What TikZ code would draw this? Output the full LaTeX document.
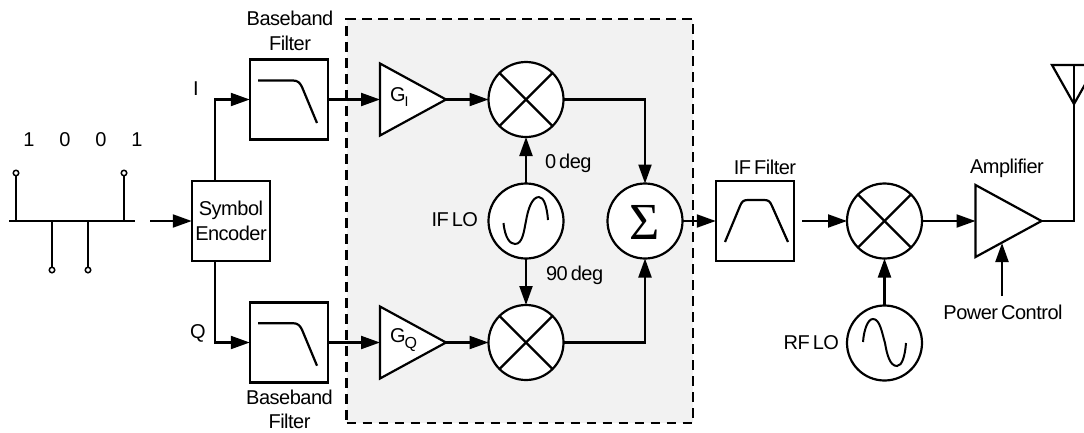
\documentclass[tikz,border=0pt]{standalone}
\usepackage{fontspec}
\setmainfont[LetterSpace=-2.5,WordSpace=0.6]{Liberation Sans}
\newfontfamily\sigmafont{Liberation Serif}
\usetikzlibrary{arrows.meta,shapes.geometric}
\tikzset{
  x=1pt,y=-1pt,
  wire/.style={line width=2.2pt,line cap=butt},
  thin wire/.style={line width=1.8pt},
  arr/.style={wire,-{Triangle[length=19pt,width=13pt]}},
  blockbox/.style={draw,line width=2.2pt,fill=white,minimum width=78.5pt,minimum height=80pt,inner sep=0pt,outer sep=0pt,align=center},
  round/.style={draw,line width=2.2pt,circle,fill=white,minimum size=75pt,inner sep=0pt,outer sep=0pt},
  gainamp/.style={draw,line width=2.2pt,fill=white,isosceles triangle,isosceles triangle stretches,shape border rotate=0,inner sep=0pt,outer sep=0pt,minimum width=72pt,minimum height=66pt,anchor=lower side},
  pin/.style={draw,line width=1.5pt,circle,fill=white,minimum size=5.5pt,inner sep=0pt,outer sep=0pt},
  txt/.style={inner sep=0pt,outer sep=0pt,align=center,font=\fontsize{20}{24.5}\selectfont},
}
\begin{document}
\begin{tikzpicture}
\useasboundingbox (0,0) rectangle (1084,432);
\clip (0,0) rectangle (1084,432);
% shaded group
\node[draw,line width=2.2pt,dash pattern=on 9.5pt off 6.5pt,fill=black!5,minimum width=346.5pt,minimum height=404pt,inner sep=0pt] (group) at (519.75,221) {};
% bit stream
\coordinate (bl) at (9,221); \coordinate (br) at (135,221);
\node[pin] (p1) at (16,173) {};
\node[pin] (p2) at (52,270) {};
\node[pin] (p3) at (88,270) {};
\node[pin] (p4) at (124,173) {};
\coordinate (b1) at (16,221); \coordinate (b2) at (52,221);
\coordinate (b3) at (88,221); \coordinate (b4) at (124,221);
\draw[thin wire] (bl) -- (br);
\draw[thin wire] (b1) -- (p1);
\draw[thin wire] (b2) -- (p2);
\draw[thin wire] (b3) -- (p3);
\draw[thin wire] (b4) -- (p4);
\node[txt] (t1) at (29,140) {1};
\node[txt] (t2) at (65,140) {0};
\node[txt] (t3) at (101,140) {0};
\node[txt] (t4) at (137,140) {1};
% blocks
\node[blockbox,txt,draw,line width=2.2pt,minimum width=78.5pt,minimum height=80pt] (enc) at (231,221) {Symbol\\Encoder};
\node[blockbox] (bb1) at (289,99.5) {};
\node[blockbox] (bb2) at (289,342.5) {};
\node[gainamp] (g1) at (380,99.5) {};
\node[gainamp] (g2) at (380,342.5) {};
\node[round] (m1) at (526,99.5) {};
\node[round] (m2) at (526,342.5) {};
\node[round] (lo1) at (526,221) {};
\node[round] (sum) at (645,221) {};
\node[blockbox] (iff) at (755,221) {};
\node[round] (m3) at (884.5,221) {};
\node[round] (lo2) at (884.5,343) {};
\node[gainamp] (pa) at (975.5,221) {};
\foreach \m in {m1,m2,m3}{
  \draw[wire] (\m.45) -- (\m.225);
  \draw[wire] (\m.135) -- (\m.-45);
}
% filter curves
\draw[wire,line join=round] (258,80.5) -- (293,80.5) .. controls (298,80.5) and (300,83) .. (302,87) -- (317,123);
\draw[wire,line join=round] (258,323.2) -- (293,323.2) .. controls (298,323.2) and (300,325.7) .. (302,329.7) -- (317,365.7);
\draw[wire,line join=round] (725,242) -- (740,206) .. controls (742,201) and (744,200) .. (748,200) -- (764,200) .. controls (768,200) and (770,201) .. (772,206) -- (788,242);
% sines
\draw[line width=2pt] (503.5,223) .. controls (505,238) and (510,244) .. (515,244) .. controls (523,244) and (524,230) .. (526,221) .. controls (528,209) and (532,197) .. (539,197) .. controls (544,197) and (547,207) .. (548,220);
\draw[line width=2pt] (863,342) .. controls (864,329) and (868,319) .. (873,319) .. controls (880,319) and (882,333) .. (885,343) .. controls (887,355) and (890,366) .. (897,366) .. controls (902,366) and (905,356) .. (906,343);
% connectors
\coordinate (sigin) at (150,221);
\draw[arr] (sigin) -- (enc.west);
\coordinate (encI) at (215,181); \coordinate (encQ) at (215,261);
\draw[arr] (encI) |- (bb1.west);
\draw[arr] (encQ) |- (bb2.west);
\draw[arr] (bb1.east) -- (g1.lower side);
\draw[arr] (bb2.east) -- (g2.lower side);
\draw[arr] (g1.apex) -- (m1.west);
\draw[arr] (g2.apex) -- (m2.west);
\draw[arr] (lo1.north) -- (m1.south);
\draw[arr] (lo1.south) -- (m2.north);
\draw[arr] (m1.east) -| (sum.north);
\draw[arr] (m2.east) -| (sum.south);
\draw[arr] (sum.east) -- (iff.west);
\coordinate (ifout) at (802,221);
\draw[arr] (ifout) -- (m3.west);
\draw[arr] (m3.east) -- (pa.lower side);
\draw[arr] (lo2.north) -- (m3.south);
\coordinate (pwr) at (1002,296); \coordinate (pwrtip) at (1002,243);
\draw[arr] (pwr) -- (pwrtip);
% antenna
\coordinate (antapex) at (1074,104); \coordinate (antl) at (1052,65); \coordinate (antr) at (1096,65); \coordinate (anttop) at (1074,65);
\draw[wire] (pa.apex) -| (antapex);
\draw[wire,line join=miter] (antapex) -- (antl) -- (antr) -- cycle;
\draw[wire] (antapex) -- (anttop);
% labels
\node[txt] (lb1) at (290,31) {Baseband\\Filter};
\node[txt] (lb2) at (289.5,409.5) {Baseband\\Filter};
\node[txt] (li) at (196,89) {I};
\node[txt] (lq) at (198,333) {Q};
\node[txt,anchor=west] (lg1) at (390,97) {G\kern-1pt\raisebox{-5pt}{\fontsize{14}{14}\selectfont I}};
\node[txt,anchor=west] (lg2) at (390,340) {G\kern-1pt\raisebox{-6pt}{\fontsize{16}{16}\selectfont Q}};
\node[txt,anchor=west] (l0) at (545,163) {0 deg};
\node[txt,anchor=west] (l90) at (546,275) {90 deg};
\node[txt,anchor=east] (lif) at (478,220) {IF LO};
\node[txt,anchor=east] (lrf) at (839,343) {RF LO};
\node[txt] (lsum) at (645,222) {\sigmafont\fontsize{52}{52}\selectfont Σ};
\node[txt] (lifl) at (765,167) {IF Filter};
\node[txt] (lamp) at (1007,168) {Amplifier};
\node[txt] (lpow) at (1003,312) {Power Control};
\end{tikzpicture}
\end{document}
